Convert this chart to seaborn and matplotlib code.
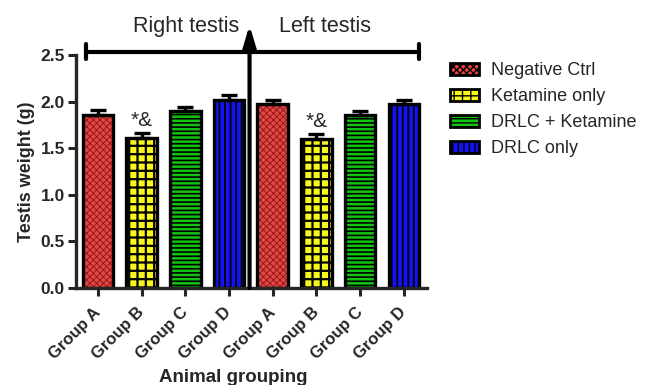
import matplotlib
matplotlib.use("Agg")
import matplotlib.pyplot as plt
import matplotlib.transforms as mtransforms
import seaborn as sns
import pandas as pd
import numpy as np
from matplotlib.patches import Patch

# ---- data ----
side = ["Right", "Right", "Right", "Right", "Left", "Left", "Left", "Left"]
group_labels = ["Group A", "Group B", "Group C", "Group D",
                "Group A", "Group B", "Group C", "Group D"]
treatments = ["Negative Ctrl", "Ketamine only", "DRLC + Ketamine", "DRLC only",
              "Negative Ctrl", "Ketamine only", "DRLC + Ketamine", "DRLC only"]
weights = [1.86, 1.61, 1.90, 2.02, 1.97, 1.60, 1.86, 1.97]
errors = [0.05, 0.05, 0.04, 0.05, 0.05, 0.05, 0.04, 0.05]
signif = ["", "*&", "", "", "", "*&", "", ""]
legend_names = ["Negative Ctrl", "Ketamine only", "DRLC + Ketamine", "DRLC only"]
colors = {"Negative Ctrl": "#ea4442", "Ketamine only": "#f7f71a",
          "DRLC + Ketamine": "#12c412", "DRLC only": "#1212f2"}
hatches = {"Negative Ctrl": "xxxxx", "Ketamine only": "++",
           "DRLC + Ketamine": "----", "DRLC only": "|||"}
hatch_colors = {"Negative Ctrl": "#8a1c1c", "Ketamine only": "black",
                "DRLC + Ketamine": "black", "DRLC only": "black"}
hatch_lw = {"Negative Ctrl": 0.7, "Ketamine only": 1.6,
            "DRLC + Ketamine": 1.2, "DRLC only": 1.3}

keys = [f"{s} {g}" for s, g in zip(side, group_labels)]
df = pd.DataFrame({"key": keys, "treatment": treatments, "weight": weights})

sns.set_style("ticks")
plt.rcParams["font.family"] = ["Liberation Sans", "DejaVu Sans"]
plt.rcParams["hatch.linewidth"] = 1.0

fig = plt.figure(figsize=(6.47, 3.85), dpi=100)
ax = fig.add_axes([76 / 647, 1 - 288 / 385, (427 - 76) / 647, (288 - 55) / 385])

# filled, hatched bars
sns.barplot(data=df, x="key", y="weight", hue="treatment", order=keys,
            hue_order=legend_names, palette=colors, dodge=False, width=0.7,
            saturation=1, errorbar=None, linewidth=0, legend=False, ax=ax)
for p in list(ax.patches):
    if p.get_height() <= 0:
        continue
    idx = int(round(p.get_x() + p.get_width() / 2))
    t = treatments[idx]
    p.set_hatch(hatches[t])
    p.set_edgecolor(hatch_colors[t])
    p.set_linewidth(0)
    if hasattr(p, "set_hatch_linewidth"):
        p.set_hatch_linewidth(hatch_lw[t])

# black outlines
sns.barplot(data=df, x="key", y="weight", order=keys, fill=False, width=0.7,
            errorbar=None, edgecolor="black", linewidth=2.4, ax=ax)

x = np.arange(len(keys))
ax.errorbar(x, weights, yerr=[np.zeros(len(errors)), errors], fmt="none",
            ecolor="black", elinewidth=2.4, capsize=6, capthick=2.4, zorder=5)

for xi, w, e, s in zip(x, weights, errors, signif):
    if s:
        ax.text(xi, w + e + 0.03, s, ha="center", va="bottom", fontsize=15)

ax.set_xlim(-0.5, 7.53)
ax.set_ylim(0, 2.5)
ax.set_yticks([0, 0.5, 1.0, 1.5, 2.0, 2.5])
ax.set_yticklabels(["0.0", "0.5", "1.0", "1.5", "2.0", "2.5"],
                   fontsize=12.5, fontweight="bold")
ax.set_xticks(x)
ax.set_xticklabels(group_labels, rotation=45, ha="right", va="center",
                   rotation_mode="anchor", fontsize=12, fontweight="bold")
offset = mtransforms.ScaledTranslation(4 / 72, 0, fig.dpi_scale_trans)
for lbl in ax.get_xticklabels():
    lbl.set_transform(lbl.get_transform() + offset)
ax.set_ylabel("Testis weight (g)", fontsize=13, fontweight="bold", labelpad=4)
ax.set_xlabel("Animal grouping", fontsize=13.5, fontweight="bold")
ax.xaxis.set_label_coords((233 - 76) / 351, -(377 - 288) / 233)
ax.xaxis.label.set_va("center")
for s in ["left", "bottom"]:
    ax.spines[s].set_linewidth(2.4)
sns.despine(ax=ax)
ax.tick_params(axis="both", width=2.2, length=6, direction="out")
ax.tick_params(axis="x", pad=10)
ax.tick_params(axis="y", pad=2)

# bracket and arrow
yb = 2.535
ax.plot([-0.27, 7.35], [yb, yb], color="black", lw=3, clip_on=False)
for xe in [-0.27, 7.35]:
    ax.plot([xe, xe], [yb - 0.08, yb + 0.08], color="black", lw=3, clip_on=False)
ax.annotate("", xy=(3.47, 2.82), xytext=(3.47, 0.0),
            arrowprops=dict(arrowstyle="-|>,head_length=1.4,head_width=0.42",
                            color="black", lw=3, shrinkA=0, shrinkB=0),
            annotation_clip=False)
ax.text(2.02, 2.81, "Right testis", ha="center", va="center", fontsize=15.5)
ax.text(5.2, 2.81, "Left testis", ha="center", va="center", fontsize=15.5)

handles = []
for n in legend_names:
    h = Patch(facecolor=colors[n], edgecolor="black", hatch=hatches[n], linewidth=2)
    handles.append(h)
fig.legend(handles, legend_names, loc="upper left",
           bbox_to_anchor=(434 / 647, 1 - 46 / 385), frameon=False,
           fontsize=13, handlelength=1.6, handleheight=0.6,
           labelspacing=0.5, handletextpad=0.65)

fig.savefig("out.png", dpi=100)
